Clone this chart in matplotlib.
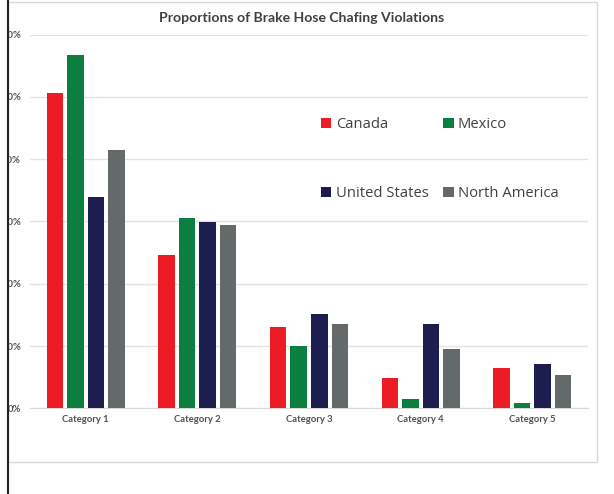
import numpy as np
import matplotlib.pyplot as plt
from matplotlib.transforms import Bbox, TransformedBbox
from matplotlib.patches import Rectangle
from matplotlib.lines import Line2D

# values (percent)
categories = ["Category 1", "Category 2", "Category 3", "Category 4", "Category 5"]
canada = [50.7, 24.6, 13.0, 4.8, 6.5]
mexico = [56.7, 30.6, 10.0, 1.5, 0.8]
united_states = [34.0, 29.9, 15.1, 13.6, 7.1]
north_america = [41.5, 29.5, 13.5, 9.5, 5.3]
series_names = ["Canada", "Mexico", "United States", "North America"]
y_ticks = [0, 10, 20, 30, 40, 50, 60]

colors = ["#ED1C24", "#0A7F40", "#1E1D4F", "#646A6A"]
W, H = 614, 494

fig = plt.figure(figsize=(W / 100, H / 100), dpi=100)
ax = fig.add_axes([30 / W, (H - 408.3) / H, 558 / W, 373.6 / H])

x = np.arange(len(categories))
step, bar_w = 0.184, 0.148
all_series = [canada, mexico, united_states, north_america]
bars = []
for i, (vals, name) in enumerate(zip(all_series, series_names)):
    b = ax.bar(x + (i - 1.5) * step, vals, width=bar_w, color=colors[i],
               label=name, zorder=3)
    bars.append(b)

ax.set_xlim(-0.5, len(categories) - 0.5)
ax.set_ylim(0, 60)
ax.set_yticks(y_ticks)
ax.set_yticklabels([f"{t}%" for t in y_ticks])
ax.set_xticks(x)
ax.set_xticklabels(categories)
ax.grid(axis="y", color="#E3E3E3", lw=1, zorder=0)
for s in ["top", "right", "left"]:
    ax.spines[s].set_visible(False)
ax.spines["bottom"].set_color("#D9D9D9")
ax.tick_params(length=0, labelsize=6.8, labelcolor="#505050")
ax.tick_params(axis="y", pad=6.5)
ax.tick_params(axis="x", pad=5)
for lab in ax.get_xticklabels() + ax.get_yticklabels():
    lab.set_fontfamily("Lato")
    lab.set_fontweight("bold")

# the picture is cropped on the left, so the y labels get cut at the black line
clip = TransformedBbox(Bbox([[8 / W, 0], [1, 1]]), fig.transFigure)
for lab in ax.get_yticklabels():
    lab.set_clip_on(True)
    lab.set_clip_box(clip)

# legend, two rows of two
order = [0, 2, 1, 3]
leg = fig.legend([bars[i] for i in order], [series_names[i] for i in order],
                 ncol=2, loc="upper left", bbox_to_anchor=(321 / W, 1 - 117 / H),
                 frameon=False, borderpad=0, borderaxespad=0,
                 prop={"family": "Open Sans", "size": 10.6},
                 handlelength=0.7, handleheight=0.7, handletextpad=0.3,
                 columnspacing=1.0, labelspacing=3.7)
for t in leg.get_texts():
    t.set_color("#404040")

fig.text(302 / W, 1 - 18 / H, "Proportions of Brake Hose Chafing Violations",
         ha="center", va="center", fontsize=10.1, fontweight="bold",
         family="Lato", color="#404040")

# chart border and the black line along the left edge
fig.patches.append(Rectangle((8 / W, (H - 462) / H), 589 / W, 460 / H,
                             transform=fig.transFigure, fill=False,
                             edgecolor="#DADADA", lw=1))
fig.add_artist(Line2D([8 / W, 8 / W], [0, 1], transform=fig.transFigure,
                      color="#222222", lw=1.5))

fig.savefig("out.png", dpi=100)
